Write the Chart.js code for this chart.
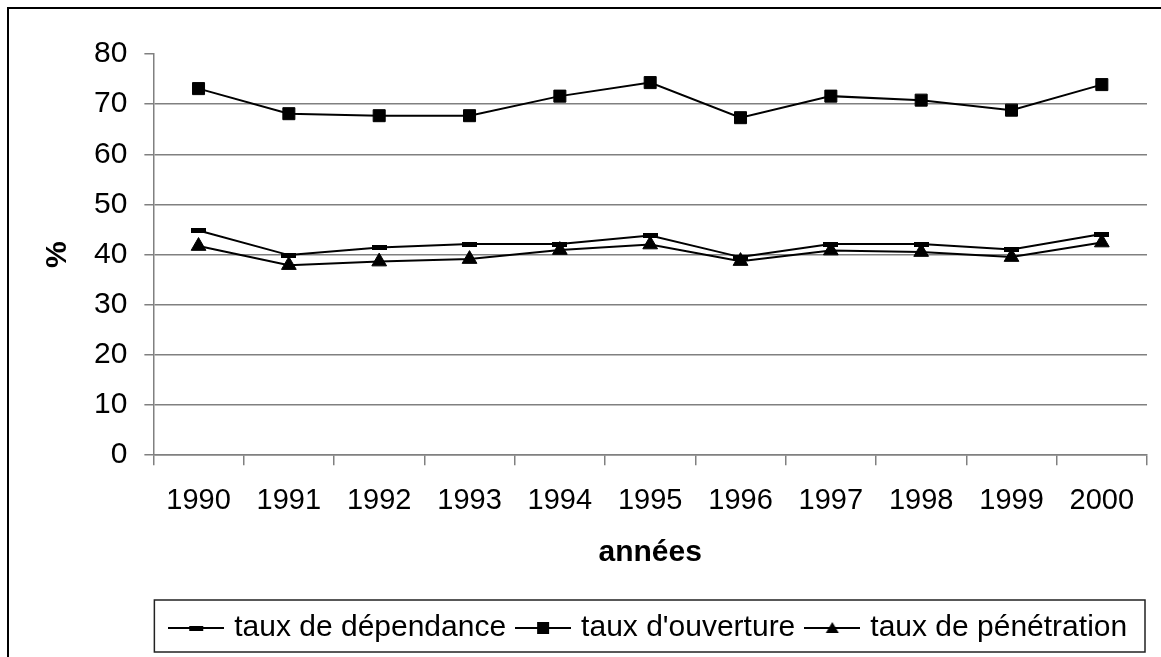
<!DOCTYPE html>
<html>
<head>
<meta charset="utf-8">
<script src="https://cdn.jsdelivr.net/npm/chart.js@4"></script>
<style>
  html, body { margin: 0; padding: 0; background: #fff; }
  #wrap { position: relative; width: 1161px; height: 657px; overflow: hidden; }
  #frame { position: absolute; left: 7px; top: 7px; width: 1300px; height: 800px; border: 2px solid #000; }
  #c { position: absolute; left: 0; top: 0; }
</style>
</head>
<body>
<div id="wrap">
  <div id="frame"></div>
  <canvas id="c" width="1161" height="657"></canvas>
</div>
<script>
// Données
const annees = ['1990', '1991', '1992', '1993', '1994', '1995', '1996', '1997', '1998', '1999', '2000'];
const tauxDependance = [44.8, 39.9, 41.4, 42.1, 42.1, 43.8, 39.5, 42.1, 42.1, 41.0, 44.1];
const tauxOuverture = [73.1, 68.1, 67.7, 67.7, 71.6, 74.3, 67.3, 71.6, 70.8, 68.8, 73.9];
const tauxPenetration = [41.7, 37.9, 38.6, 39.1, 40.9, 42.0, 38.7, 40.8, 40.5, 39.5, 42.4];
const etiquettes = ['taux de dépendance', "taux d'ouverture", 'taux de pénétration'];

const police = "'Liberation Sans', Arial, sans-serif";

// Marqueur "tiret" épais (comme dans Excel)
function marqueurTiret() {
    const cv = document.createElement('canvas');
    cv.width = 15;
    cv.height = 5;
    const g = cv.getContext('2d');
    g.fillStyle = '#000';
    g.fillRect(0, 0, 15, 5);
    return cv;
}

// Petites icônes de légende : trait + marqueur
function iconeLegende(type) {
    const cv = document.createElement('canvas');
    cv.width = 56;
    cv.height = 16;
    const g = cv.getContext('2d');
    g.strokeStyle = '#000';
    g.fillStyle = '#000';
    g.lineWidth = 2;
    g.beginPath();
    g.moveTo(0, 8);
    g.lineTo(56, 8);
    g.stroke();
    if (type === 'dash') {
        g.fillRect(21, 6, 14, 5);
    } else if (type === 'rect') {
        g.fillRect(22, 2, 12, 12);
    } else {
        g.beginPath();
        g.moveTo(28, 2);
        g.lineTo(34.5, 13);
        g.lineTo(21.5, 13);
        g.closePath();
        g.fill();
    }
    return cv;
}
const icones = [iconeLegende('dash'), iconeLegende('rect'), iconeLegende('tri')];

// Cadre autour de la légende
const cadreLegende = {
    id: 'cadreLegende',
    afterDraw(chart) {
        const lg = chart.legend;
        const ca = chart.chartArea;
        const mid = lg.top + lg.height / 2;
        const ctx = chart.ctx;
        ctx.save();
        ctx.strokeStyle = '#222';
        ctx.lineWidth = 1.5;
        ctx.strokeRect(ca.left + 1, mid - 26, ca.right - ca.left - 3, 52);
        ctx.restore();
    }
};

const ctx = document.getElementById('c').getContext('2d');
new Chart(ctx, {
    type: 'line',
    data: {
        labels: annees,
        datasets: [{
            label: etiquettes[0],
            data: tauxDependance,
            borderColor: '#000',
            borderWidth: 2,
            pointStyle: marqueurTiret(),
            pointRadius: 8,
            tension: 0
        }, {
            label: etiquettes[1],
            data: tauxOuverture,
            borderColor: '#000',
            borderWidth: 2,
            pointStyle: 'rect',
            pointRadius: 8.5,
            pointBorderWidth: 1,
            pointBorderColor: '#000',
            pointBackgroundColor: '#000',
            tension: 0
        }, {
            label: etiquettes[2],
            data: tauxPenetration,
            borderColor: '#000',
            borderWidth: 2,
            pointStyle: 'triangle',
            pointRadius: 8.5,
            pointBorderWidth: 1,
            pointBorderColor: '#000',
            pointBackgroundColor: '#000',
            tension: 0
        }]
    },
    options: {
        responsive: false,
        animation: false,
        events: [],
        layout: { padding: { left: 40, right: 14, top: 54, bottom: 4 } },
        plugins: {
            tooltip: { enabled: false },
            legend: {
                position: 'bottom',
                fullSize: false,
                labels: {
                    usePointStyle: true,
                    pointStyleWidth: 46,
                    padding: 14,
                    color: '#000',
                    font: { family: police, size: 30 },
                    generateLabels: chart => chart.data.datasets.map((ds, i) => ({
                        text: ds.label,
                        pointStyle: icones[i],
                        datasetIndex: i,
                        fontColor: '#000',
                        fillStyle: 'rgba(0,0,0,0)',
                        strokeStyle: 'rgba(0,0,0,0)',
                        lineWidth: 0,
                        hidden: false
                    }))
                }
            }
        },
        scales: {
            x: {
                offset: true,
                grid: {
                    offset: true,
                    drawOnChartArea: false,
                    drawTicks: true,
                    tickLength: 10,
                    color: '#808080',
                    lineWidth: 1.5
                },
                border: { display: true, color: '#808080', width: 1.5 },
                ticks: {
                    color: '#000',
                    padding: 18,
                    maxRotation: 0,
                    font: { family: police, size: 29 }
                },
                title: {
                    display: true,
                    text: 'années',
                    color: '#000',
                    font: { family: police, size: 30, weight: 'bold', lineHeight: 1.1 },
                    padding: { top: 0, bottom: 30 }
                }
            },
            y: {
                min: 0,
                max: 80,
                ticks: {
                    stepSize: 10,
                    color: '#000',
                    padding: 17,
                    font: { family: police, size: 30 }
                },
                grid: {
                    color: c => (c.tick && c.tick.value === 80) ? 'rgba(0,0,0,0)' : '#808080',
                    tickColor: '#808080',
                    lineWidth: 1.5,
                    drawTicks: true,
                    tickLength: 9
                },
                border: { display: true, color: '#808080', width: 1.5 },
                title: {
                    display: true,
                    text: '%',
                    color: '#000',
                    font: { family: police, size: 30, weight: 'bold' },
                    padding: { top: 0, bottom: 1 }
                }
            }
        }
    },
    plugins: [cadreLegende]
});
</script>
</body>
</html>
